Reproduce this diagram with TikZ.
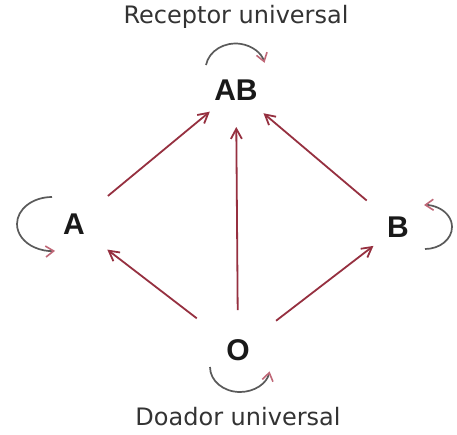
\documentclass[tikz,border=0pt]{standalone}
\usepackage{fontspec}
\setmainfont{DejaVu Sans}
\newfontfamily\letterfont{Liberation Sans}
\usetikzlibrary{arrows.meta}
\definecolor{arrred}{HTML}{963040}
\definecolor{loopgray}{HTML}{5A5A5A}
\definecolor{tippink}{HTML}{C06878}
\tikzset{
  lbl/.style={font=\letterfont\bfseries\fontsize{30}{30}\selectfont, text=black!90, inner sep=0pt},
  captext/.style={font=\fontsize{24}{24}\selectfont, text=black!80},
  arr/.style={draw=arrred, line width=1.8pt, -{Straight Barb[length=10pt,width=11pt,line width=1.8pt]}},
  loopar/.style={draw=loopgray, line width=1.7pt, -{Straight Barb[length=8pt,width=11pt,line width=1.6pt,color=tippink]}}
}
\begin{document}
\begin{tikzpicture}[x=1pt,y=1pt]
\useasboundingbox[fill=white] (0,0) rectangle (457,-434);
\node[lbl] (AB) at (236,-90) {AB};
\node[lbl] (A) at (74,-224) {A};
\node[lbl] (B) at (398,-227) {B};
\node[lbl] (O) at (238,-350) {O};
\node[captext] (rec) at (236,-17) {Receptor universal};
\node[captext] (doa) at (238,-417) {Doador universal};
% arrows
\draw[arr, shorten <=40pt, shorten >=37pt] (O.center) -- (AB.center);
\draw[arr, shorten <=44pt, shorten >=34pt] (A.center) -- (AB.center);
\draw[arr, shorten <=41pt, shorten >=36pt] (B.center) -- (AB.center);
\draw[arr, shorten <=52pt, shorten >=42pt] (O.center) -- (A.center);
\draw[arr, shorten <=48pt, shorten >=31pt] (O.center) -- (B.center);
% loops
\draw[loopar] (AB.center) ++(-30,25) arc[start angle=170, end angle=15, x radius=30, y radius=26];
\draw[loopar] (A.center) ++(-22,27) arc[start angle=90, end angle=275, x radius=35, y radius=27];
\draw[loopar] (B.center) ++(27,-22) arc[start angle=-90, end angle=92, x radius=27, y radius=22];
\draw[loopar] (O.center) ++(-28,-17) arc[start angle=180, end angle=350, x radius=30, y radius=25];
\end{tikzpicture}
\end{document}
